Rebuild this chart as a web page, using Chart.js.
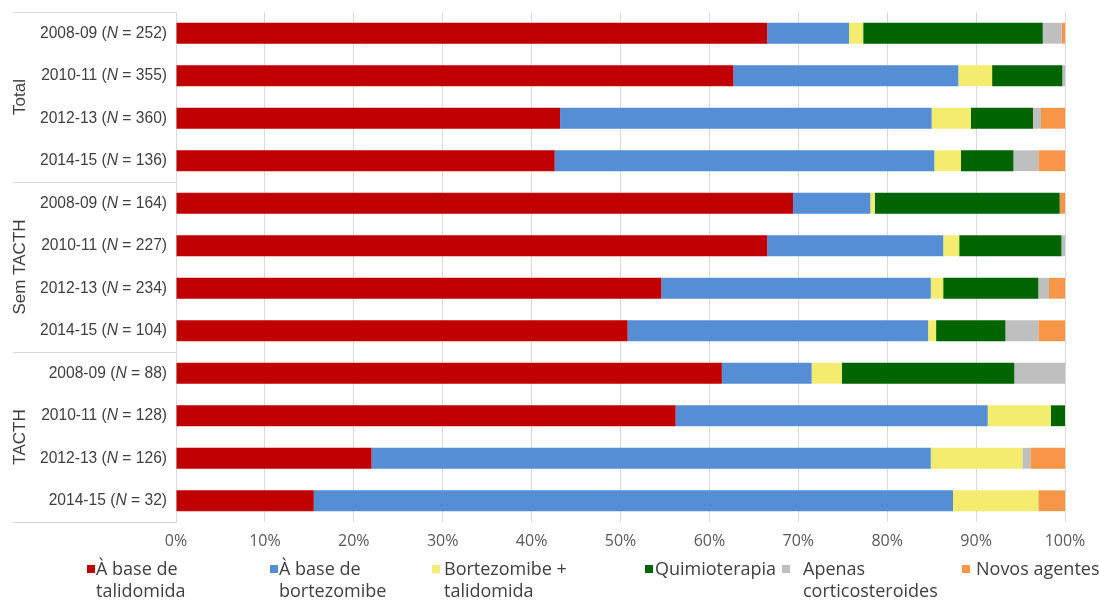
<!DOCTYPE html>
<html>
<head>
<meta charset="utf-8">
<script src="https://cdn.jsdelivr.net/npm/chart.js@4.4.0/dist/chart.umd.min.js"></script>
<style>
  html, body { margin: 0; background: #fff; }
  #wrap { position: relative; width: 1099px; height: 603px; }
  #legend { position: absolute; left: 0; top: 557px; width: 1099px; height: 46px;
            font-family: "Open Sans"; font-size: 18px; line-height: 22px; color: #404040; }
  .item { position: absolute; top: 0; white-space: pre; }
  .box { position: absolute; width: 8px; height: 8px; top: 8px; }
</style>
</head>
<body>
<div id="wrap">
  <canvas id="chart" width="1099" height="603"></canvas>
  <div id="legend"></div>
</div>
<script>
const periods = ['2008-09', '2010-11', '2012-13', '2014-15',
                 '2008-09', '2010-11', '2012-13', '2014-15',
                 '2008-09', '2010-11', '2012-13', '2014-15'];
const counts = [252, 355, 360, 136, 164, 227, 234, 104, 88, 128, 126, 32];
const groups = ['Total', 'Sem TACTH', 'TACTH'];
const groupSizes = [4, 4, 4];

const seriesNames = ['À base de\ntalidomida', 'À base de\nbortezomibe', 'Bortezomibe +\ntalidomida',
                     'Quimioterapia', 'Apenas\ncorticosteroides', 'Novos agentes'];
const seriesColors = ['#C00000', '#558ED5', '#F3EC6E', '#006400', '#BFBFBF', '#F79646'];

const talidomida  = [66.5, 62.7, 43.2, 42.6, 69.4, 66.5, 54.6, 50.8, 61.4, 56.2, 22.0, 15.5];
const bortezomibe = [9.2, 25.3, 41.8, 42.7, 8.7, 19.8, 30.3, 33.8, 10.1, 35.1, 62.9, 71.9];
const bortTalid   = [1.6, 3.8, 4.4, 3.0, 0.5, 1.8, 1.4, 0.9, 3.4, 7.1, 10.3, 9.6];
const quimio      = [20.2, 7.9, 7.0, 5.9, 20.8, 11.5, 10.7, 7.8, 19.4, 1.6, 0, 0];
const cortico     = [2.1, 0.3, 0.9, 2.8, 0, 0.4, 1.2, 3.7, 5.7, 0, 0.9, 0];
const novos       = [0.4, 0, 2.7, 3.0, 0.6, 0, 1.8, 3.0, 0, 0, 3.9, 3.0];

const seriesData = [talidomida, bortezomibe, bortTalid, quimio, cortico, novos];

// legend placement (box left, text left)
const legendPos = [[87, 96], [270, 279], [432, 444], [645, 655], [782, 803], [962, 976]];

const labelPlugin = {
  id: 'sideLabels',
  afterDraw(chart) {
    const { ctx, chartArea: a, scales: { y } } = chart;
    ctx.save();
    ctx.fillStyle = '#404040';
    ctx.textBaseline = 'middle';
    ctx.textAlign = 'left';
    periods.forEach((p, i) => {
      const yy = y.getPixelForValue(i);
      const parts = [[p + ' (', ''], ['N', 'italic '], [' = ' + counts[i] + ')', '']];
      let w = 0;
      parts.forEach(pt => {
        ctx.font = pt[1] + '15.6px "Liberation Sans"';
        pt.push(ctx.measureText(pt[0]).width);
        w += pt[2];
      });
      let x = a.left - 9 - w;
      parts.forEach(pt => {
        ctx.font = pt[1] + '15.6px "Liberation Sans"';
        ctx.fillText(pt[0], x, yy);
        x += pt[2];
      });
    });

    // group separators
    const bounds = [y.getPixelForValue(-0.5)];
    let idx = 0;
    groupSizes.forEach(s => { idx += s; bounds.push(y.getPixelForValue(idx - 0.5)); });
    ctx.strokeStyle = '#D9D9D9';
    ctx.lineWidth = 1;
    bounds.forEach(b => {
      const yb = Math.round(b) + 0.5;
      ctx.beginPath();
      ctx.moveTo(13, yb);
      ctx.lineTo(a.left, yb);
      ctx.stroke();
    });

    // group names
    ctx.font = '17px "Liberation Sans"';
    ctx.textAlign = 'center';
    groups.forEach((g, k) => {
      const mid = (bounds[k] + bounds[k + 1]) / 2;
      ctx.save();
      ctx.translate(20, mid);
      ctx.rotate(-Math.PI / 2);
      ctx.fillText(g, 0, 0);
      ctx.restore();
    });
    ctx.restore();
  }
};

new Chart(document.getElementById('chart'), {
  type: 'bar',
  data: {
    labels: periods.map((p, i) => p + ' (N = ' + counts[i] + ')'),
    datasets: seriesNames.map((name, k) => ({
      label: name,
      data: seriesData[k],
      backgroundColor: seriesColors[k],
      borderWidth: 0,
      categoryPercentage: 1,
      barPercentage: 0.49
    }))
  },
  options: {
    indexAxis: 'y',
    responsive: false,
    animation: false,
    layout: { padding: { top: 12, right: 34, left: 0, bottom: 0 } },
    plugins: { legend: { display: false }, tooltip: { enabled: false } },
    scales: {
      x: {
        stacked: true,
        min: 0, max: 100,
        ticks: { stepSize: 10, callback: v => v + '%', color: '#595959',
                 font: { family: 'Open Sans', size: 16 }, padding: 10 },
        grid: { color: '#D9D9D9', drawTicks: false },
        border: { display: false },
        afterFit(scale) { scale.height = 81; }
      },
      y: {
        stacked: true,
        ticks: { display: false },
        grid: { display: false },
        border: { display: true, color: '#D9D9D9' },
        afterFit(scale) { scale.width = 176; }
      }
    }
  },
  plugins: [labelPlugin]
});

const legend = document.getElementById('legend');
seriesNames.forEach((name, k) => {
  const box = document.createElement('div');
  box.className = 'box';
  box.style.left = legendPos[k][0] + 'px';
  box.style.background = seriesColors[k];
  legend.appendChild(box);
  const t = document.createElement('div');
  t.className = 'item';
  t.style.left = legendPos[k][1] + 'px';
  t.textContent = name;
  legend.appendChild(t);
});
</script>
</body>
</html>
